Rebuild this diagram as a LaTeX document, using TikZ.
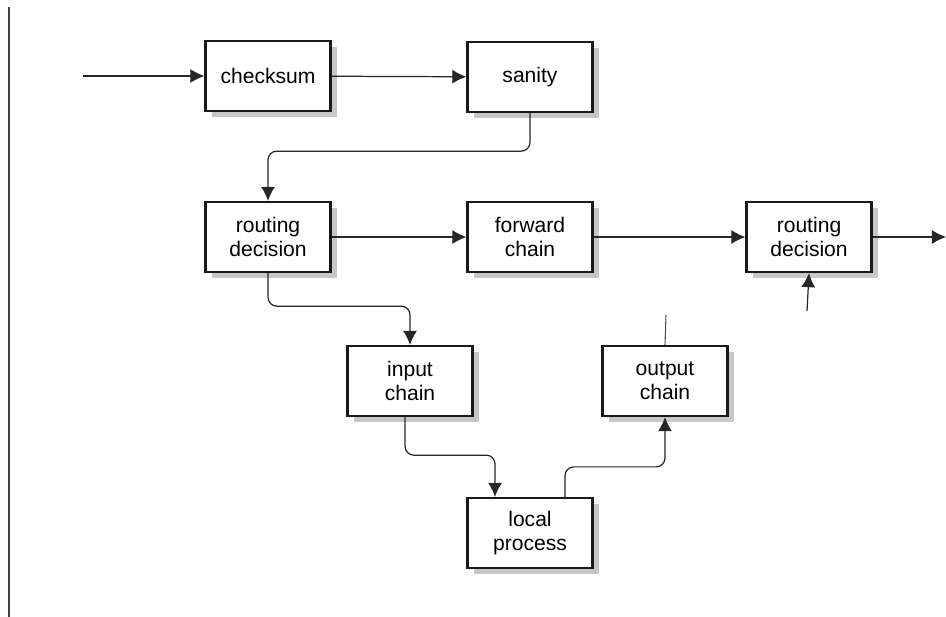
\documentclass[tikz,border=0pt]{standalone}
\usepackage{fontspec}
\setmainfont{Liberation Sans}
\usetikzlibrary{arrows.meta,shadows}
\begin{document}
\begin{tikzpicture}[x=0.02cm,y=-0.02cm,
  stage/.style={draw=black!90,line width=1.3pt,fill=white,minimum width=2.5cm,minimum height=1.4cm,
    align=center,inner sep=1pt,font=\fontsize{12}{13.5}\selectfont,
    drop shadow={shadow xshift=3.5pt,shadow yshift=-3.5pt,fill=black!40,opacity=.55}},
  flow/.style={draw=black!85,line width=0.7pt,rounded corners=5pt,-{Latex[length=8pt,width=8pt]}},
  wire/.style={draw=black!70,line width=0.6pt}]
\useasboundingbox (0,0) rectangle (946,616);
\draw[black!75,line width=1.5pt] (9,7) -- (9,620);            % page edge
% the boxes
\node[stage] (checksum) at (268,76) {checksum};
\node[stage] (sanity) at (530,77) {sanity};
\node[stage] (route1) at (268,237) {routing\\decision};
\node[stage] (forward) at (530,237) {forward\\chain};
\node[stage] (route2) at (809,237) {routing\\decision};
\node[stage] (input) at (410,381) {input\\chain};
\node[stage] (output) at (665,381) {output\\chain};
\node[stage] (local) at (530,533) {local\\process};
% loose ends
\coordinate (in) at (83,76);
\coordinate (out) at (946,237);
\coordinate (back) at (807,311);
\coordinate (up) at (666,315);
% the packet path
\draw[flow] (in) -- (checksum);
\draw[flow] (checksum) -- (sanity);
\draw[flow] (sanity.south) -- ++(0,38) -| (route1.north);
\draw[flow] (route1) -- (forward);
\draw[flow] (forward) -- (route2);
\draw[flow] (route2) -- (out);
\draw[flow] (route1.south) -- ++(0,33) -| (input.north);
\draw[flow] ([xshift=-0.1cm]input.south) -- ++(0,38) -| ([xshift=-0.7cm]local.north);
\draw[flow] ([xshift=0.7cm]local.north) -- ++(0,-30) -| (output.south);
\draw[wire] (output.north) -- (up);
\draw[flow] (back) -- (route2.south);
\end{tikzpicture}
\end{document}
